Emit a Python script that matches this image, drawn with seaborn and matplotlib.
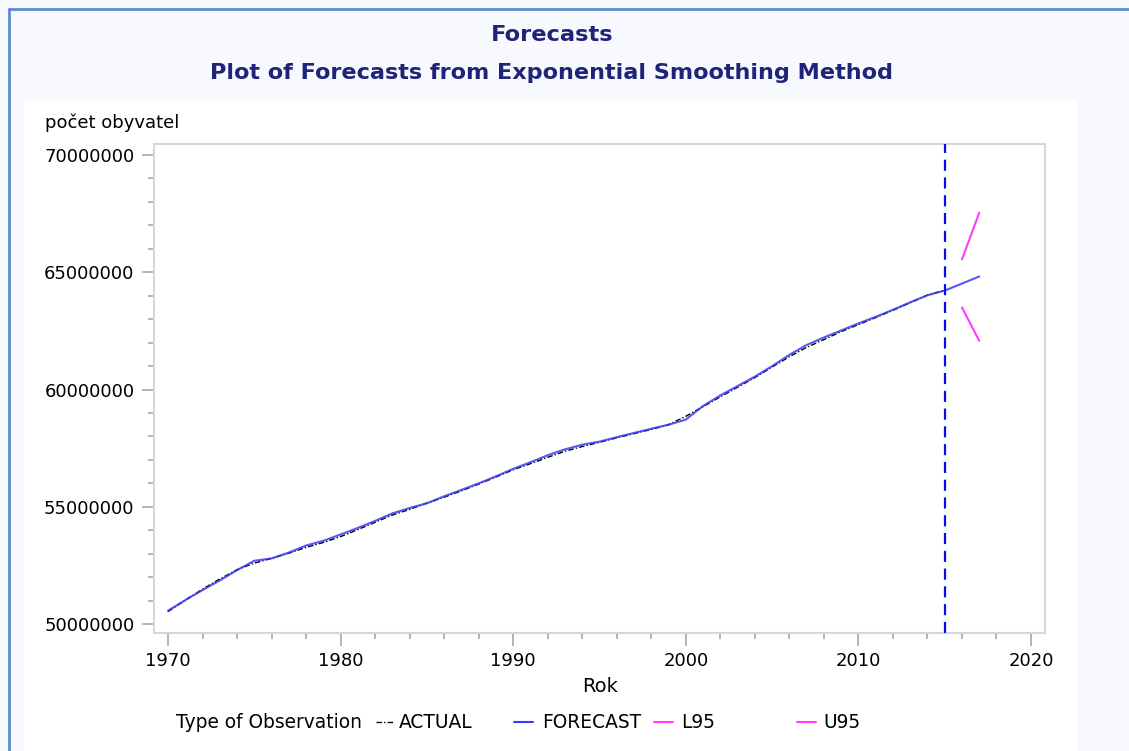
import matplotlib
matplotlib.use("Agg")
import matplotlib.pyplot as plt
from matplotlib.lines import Line2D
from matplotlib.patches import Rectangle
from matplotlib.ticker import MultipleLocator, FixedLocator
import numpy as np
import pandas as pd
import seaborn as sns

# ---- data (population, millions of persons) ----
years_actual = list(range(1970, 2016))
actual = [50.53, 51.02, 51.49, 51.92, 52.32, 52.60, 52.80, 53.02, 53.27, 53.48,
          53.73, 54.03, 54.34, 54.65, 54.89, 55.16, 55.41, 55.68, 55.97, 56.27,
          56.58, 56.84, 57.11, 57.37, 57.57, 57.75, 57.94, 58.12, 58.30, 58.50,
          58.86, 59.27, 59.69, 60.10, 60.51, 60.96, 61.40, 61.80, 62.13, 62.47,
          62.77, 63.07, 63.38, 63.70, 64.03, 64.24]

years_forecast = list(range(1970, 2018))
forecast = [50.57, 51.02, 51.45, 51.86, 52.30, 52.70, 52.80, 53.05, 53.35, 53.55,
            53.82, 54.10, 54.40, 54.72, 54.95, 55.15, 55.45, 55.72, 56.00, 56.30,
            56.62, 56.90, 57.20, 57.45, 57.65, 57.78, 57.97, 58.15, 58.33, 58.50,
            58.72, 59.30, 59.75, 60.15, 60.55, 61.00, 61.48, 61.90, 62.22, 62.52,
            62.82, 63.10, 63.40, 63.72, 64.02, 64.22, 64.52, 64.82]

years_band = [2016, 2017]
l95 = [63.50, 62.08]
u95 = [65.55, 67.54]

forecast_start = 2015
x_ticks = [1970, 1980, 1990, 2000, 2010, 2020]
y_ticks = [50000000, 55000000, 60000000, 65000000, 70000000]

# ---- long table for seaborn ----
frames = [
    pd.DataFrame({"Rok": years_actual, "value": np.array(actual) * 1e6, "type": "ACTUAL"}),
    pd.DataFrame({"Rok": years_forecast, "value": np.array(forecast) * 1e6, "type": "FORECAST"}),
    pd.DataFrame({"Rok": years_band, "value": np.array(l95) * 1e6, "type": "L95"}),
    pd.DataFrame({"Rok": years_band, "value": np.array(u95) * 1e6, "type": "U95"}),
]
df = pd.concat(frames, ignore_index=True)

sns.set_style("white")
plt.rcParams["font.family"] = ["DejaVu Sans"]
plt.rcParams["text.color"] = "black"
plt.rcParams["xtick.color"] = "#A8A8A8"
plt.rcParams["ytick.color"] = "#A8A8A8"
plt.rcParams["xtick.labelcolor"] = "black"
plt.rcParams["ytick.labelcolor"] = "black"

W, H = 1129, 751
fig = plt.figure(figsize=(W / 100, H / 100), dpi=100, facecolor="#F7F9FE")

def fx(px):
    return px / W

def fy(py):
    return 1 - py / H

# white panel and outer frame
fig.patches.append(Rectangle((fx(24), 0), fx(1077) - fx(24), fy(100), transform=fig.transFigure,
                             facecolor="white", edgecolor="none", zorder=-5))
fig.lines.append(Line2D([fx(9), 1], [fy(9), fy(9)], transform=fig.transFigure, color="#5C8ACF", lw=2))
fig.lines.append(Line2D([fx(9), fx(9)], [0, fy(9)], transform=fig.transFigure, color="#5C8ACF", lw=2))

ax = fig.add_axes([fx(154), fy(633), fx(1045) - fx(154), fy(144) - fy(633)])
ax.set_zorder(5)
ax.set_facecolor("white")

sub = df[df["type"] == "ACTUAL"]
sns.lineplot(data=sub, x="Rok", y="value", color="black", lw=1.0, dashes=[(4, 1.5, 1, 1.5)],
             style="type", legend=False, ax=ax, zorder=3, estimator=None)
sub = df[df["type"] == "FORECAST"]
sns.lineplot(data=sub, x="Rok", y="value", color="#3A3AF5", lw=1.5, alpha=0.85,
             legend=False, ax=ax, zorder=4, estimator=None)
for name in ["L95", "U95"]:
    sub = df[df["type"] == name]
    sns.lineplot(data=sub, x="Rok", y="value", color="#FF3CFF", lw=1.5,
                 legend=False, ax=ax, zorder=4, estimator=None)

ax.axvline(forecast_start, color="#0A0AF0", lw=1.6, ls=(0, (5, 3)), zorder=5)

ax.set_xlim(1969.19, 2020.81)
ax.set_ylim(49.62e6, 70.47e6)

ax.xaxis.set_major_locator(FixedLocator(x_ticks))
ax.xaxis.set_minor_locator(MultipleLocator(2))
ax.yaxis.set_major_locator(FixedLocator(y_ticks))
ax.yaxis.set_minor_locator(MultipleLocator(1e6))
ax.set_yticklabels([str(v) for v in y_ticks])
ax.set_xticklabels([str(v) for v in x_ticks])

ax.tick_params(axis="both", which="major", length=9, width=1.2, color="#A8A8A8",
               labelsize=13, labelcolor="black", direction="out", pad=5)
ax.tick_params(axis="both", which="minor", length=4, width=1.2, color="#A8A8A8", direction="out")
ax.tick_params(axis="y", which="both", left=True)
ax.tick_params(axis="x", which="both", bottom=True)
for s in ax.spines.values():
    s.set_color("#D6D6D6")
    s.set_linewidth(1.5)
    s.set_visible(True)

ax.set_xlabel("")
ax.set_ylabel("")

# titles and axis texts
navy = "#1F2478"
fig.text(fx(552), fy(35), "Forecasts", ha="center", va="center", fontsize=16.2,
         fontweight="bold", color=navy)
fig.text(fx(552), fy(73), "Plot of Forecasts from Exponential Smoothing Method", ha="center",
         va="center", fontsize=16.1, fontweight="bold", color=navy)
fig.text(fx(45), fy(123), "počet obyvatel", ha="left", va="center", fontsize=13, color="black")
fig.text(fx(600), fy(686), "Rok", ha="center", va="center", fontsize=14, color="black")

# legend row
ly = fy(722)
fig.text(fx(176), ly, "Type of Observation", ha="left", va="center", fontsize=13.4, color="black")
legend_items = [
    (376, 393, "black", (0, (4, 1.5, 1, 1.5)), 1.0, 399, "ACTUAL"),
    (514, 533, "#3A3AF5", "-", 1.5, 542, "FORECAST"),
    (654, 673, "#FF3CFF", "-", 1.5, 681, "L95"),
    (797, 816, "#FF3CFF", "-", 1.5, 823, "U95"),
]
for x0, x1, c, ls, lw, tx, label in legend_items:
    fig.lines.append(Line2D([fx(x0), fx(x1)], [ly, ly], transform=fig.transFigure,
                            color=c, ls=ls, lw=lw))
    fig.text(fx(tx), ly, label, ha="left", va="center", fontsize=13.4, color="black")

fig.savefig("out.png", dpi=100, facecolor=fig.get_facecolor())
